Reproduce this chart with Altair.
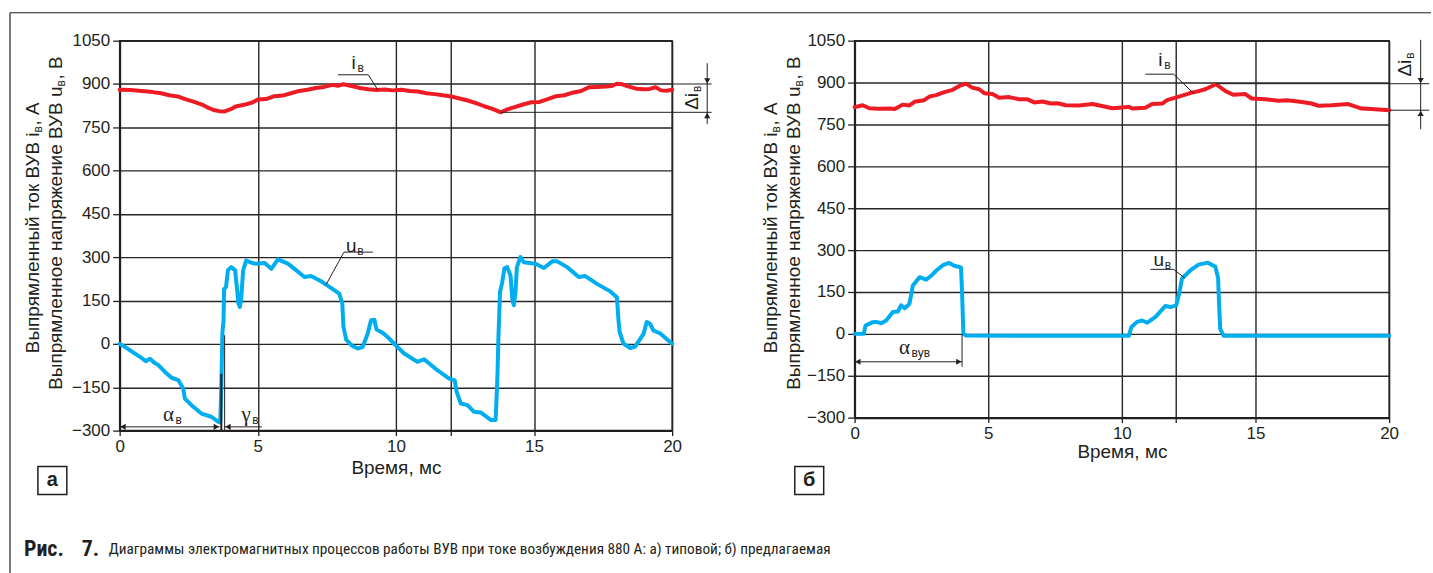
import altair as alt
import pandas as pd

# ---------------- data ----------------
# panel a (typical): excitation current i_v
a_i_t = [0, 0.4, 0.8, 1.2, 1.5, 1.8, 2.1, 2.4, 2.7, 3.0, 3.2, 3.4, 3.6, 3.8, 4.0, 4.2, 4.5, 4.8, 5.0, 5.3,
         5.6, 5.9, 6.2, 6.5, 6.8, 7.1, 7.4, 7.7, 7.9, 8.1, 8.4, 8.7, 9.0, 9.3, 9.6, 9.9, 10.2, 10.5, 10.8, 11.1,
         11.4, 11.7, 12.0, 12.3, 12.6, 12.9, 13.2, 13.5, 13.8, 14.0, 14.3, 14.6, 14.9, 15.2, 15.5, 15.8, 16.1,
         16.4, 16.7, 17.0, 17.3, 17.6, 17.8, 18.0, 18.2, 18.4, 18.7, 19.0, 19.2, 19.4, 19.6, 19.8, 20.0]
a_i_v = [880, 879, 876, 872, 868, 861, 857, 847, 838, 828, 818, 810, 806, 805, 812, 822, 828, 836, 846, 848,
         858, 860, 868, 876, 880, 886, 890, 897, 894, 899, 893, 886, 882, 879, 881, 878, 880, 876, 874, 868,
         865, 861, 857, 850, 843, 834, 823, 814, 802, 811, 820, 829, 837, 838, 848, 858, 861,
         870, 876, 889, 890, 891, 893, 901, 899, 892, 884, 882, 883, 889, 878, 877, 880]
# panel a: rectified voltage u_v
a_u_t = [0, 0.19, 0.5, 0.79, 0.95, 1.1, 1.25, 1.4, 1.64, 1.88, 2.12, 2.3, 2.36, 2.6, 2.96, 3.32, 3.56, 3.64,
         3.68, 3.72, 3.76, 3.78, 3.85, 3.92, 4.04, 4.18, 4.26, 4.3, 4.35, 4.4, 4.47, 4.58, 4.75, 4.9, 5.25,
         5.49, 5.73, 6.09, 6.33, 6.69, 6.93, 7.29, 7.65, 7.95, 8.06, 8.1, 8.2, 8.4, 8.62, 8.8, 8.98, 9.1, 9.22,
         9.3, 9.5, 9.7, 10.0, 10.3, 10.78, 11.02, 11.5, 11.93, 12.13, 12.2, 12.35, 12.59, 12.83, 13.07, 13.43,
         13.61, 13.66, 13.68, 13.71, 13.77, 13.85, 13.93, 14.03, 14.15, 14.22, 14.27, 14.33, 14.38, 14.51,
         14.63, 15.05, 15.36, 15.66, 15.84, 16.2, 16.62, 16.86, 17.28, 17.76, 18.0, 18.06, 18.1, 18.24, 18.48,
         18.66, 18.97, 19.08, 19.2, 19.32, 19.57, 20.0]
a_u_v = [0, -10, -30, -48, -60, -51, -65, -73, -97, -117, -125, -154, -189, -212, -241, -252, -269, -272,
         -150, 40, 80, 190, 197, 255, 266, 255, 180, 140, 128, 157, 255, 289, 282, 278, 280,
         260, 293, 278, 260, 232, 235, 217, 194, 174, 140, 60, 15, -5, -16, -10, 36, 82, 84,
         50, 40, 24, -5, -33, -62, -53, -91, -120, -126, -166, -206, -212, -235, -237, -263,
         -263, -150, -97, 18, 180, 214, 262, 266, 237, 150, 134, 180, 266, 301,
         283, 278, 263, 286, 286, 266, 232, 235, 208, 182, 162, 80, 41, 1, -14,
         -9, 36, 76, 70, 47, 36, 1]

# panel b (proposed): excitation current i_v
b_i_t = [0, 0.3, 0.55, 0.9, 1.3, 1.5, 1.8, 2.05, 2.24, 2.6, 2.8, 3.05, 3.36, 3.67, 3.92, 4.17, 4.4, 4.66, 4.85,
         5.16, 5.41, 5.78, 6.16, 6.47, 6.72, 7.03, 7.34, 7.59, 7.9, 8.4, 8.9, 9.3, 9.64, 10.0, 10.26, 10.39,
         10.88, 11.13, 11.51, 11.69, 12.13, 12.62, 12.9, 13.12, 13.52, 13.87, 14.18, 14.62, 14.86, 15.36,
         15.86, 16.17, 16.6, 17.1, 17.35, 17.85, 18.47, 18.97, 19.34, 20.0]
b_i_v = [812, 819, 808, 806, 807, 805, 821, 818, 831, 837, 850, 855, 866, 874, 888, 896, 882, 876, 862,
         859, 846, 848, 840, 840, 829, 832, 825, 826, 819, 818, 823, 815, 808, 811, 813, 807,
         810, 823, 825, 837, 850, 864, 870, 876, 894, 870, 856, 859, 843, 840,
         835, 837, 832, 825, 817, 819, 823, 807, 805, 801]
# panel b: rectified voltage u_v
b_u_t = [0, 0.34, 0.41, 0.68, 0.81, 1.0, 1.18, 1.43, 1.62, 1.74, 1.87, 2.05, 2.18, 2.43, 2.68, 2.86, 3.05,
         3.3, 3.54, 3.73, 3.98, 4.02, 4.05, 4.07, 4.17, 6.0, 8.0, 10.26, 10.36, 10.57, 10.76, 10.95, 11.26,
         11.63, 11.82, 12.03, 12.13, 12.25, 12.56, 12.87, 13.22, 13.5, 13.6, 13.64, 13.68, 13.81, 20.0]
b_u_v = [0, 0, 30, 42, 43, 38, 48, 78, 80, 102, 92, 107, 173, 203, 194, 208, 226,
         246, 254, 244, 238, 150, 60, 0, -6, -7, -7, -7, 25, 43, 48, 40, 61,
         100, 96, 102, 138, 198, 227, 248, 255, 240, 200, 100, 18, -7, -7]

# axis ticks
x_ticks = [0, 5, 10, 12, 15, 20]
y_ticks = [-300, -150, 0, 150, 300, 450, 600, 750, 900, 1050]

# annotation geometry (data units)
a_segments = [  # t, v, t2, v2, width
    (7.9, 932, 9.0, 932, 1.0), (9.0, 932, 9.35, 879, 1.0),
    (8.12, 318, 9.17, 318, 1.0), (8.12, 318, 7.47, 205, 1.0),
    (0.0, -287, 3.62, -287, 1.0), (3.68, -300, 3.68, -103, 2.0),
    (3.8, 30, 3.8, -300, 1.0), (3.8, -287, 5.15, -287, 1.0),
    (20.0, 900, 21.43, 900, 1.0), (13.8, 802, 21.43, 802, 1.0),
    (21.27, 972, 21.27, 762, 1.0),
]
a_heads = [(0.12, -287, "triangle-left"), (3.5, -287, "triangle-right"), (3.92, -287, "triangle-left"),
           (21.27, 911, "triangle-down"), (21.27, 791, "triangle-up")]
b_segments = [
    (10.88, 930, 11.94, 930, 1.0), (11.94, 930, 12.69, 861, 1.0),
    (11.07, 231, 11.94, 231, 1.0), (11.94, 231, 12.35, 200, 1.0),
    (0.0, -100, 4.02, -100, 1.0), (4.02, 0, 4.02, -118, 1.0),
    (13.52, 896, 21.5, 896, 1.0), (20.0, 801, 21.5, 801, 1.0),
    (21.18, 1053, 21.18, 733, 1.0),
]
b_heads = [(0.12, -100, "triangle-left"), (3.9, -100, "triangle-right"),
           (21.18, 907, "triangle-down"), (21.18, 790, "triangle-up")]

# labels: t, v, main, sub, serif?, sub dx
a_labels = [(8.47, 973, "i", "в", False, 4), (8.38, 339, "u", "в", False, 6),
            (1.77, -245, "α", "в", True, 7), (4.58, -245, "γ", "в", True, 6)]
b_labels = [(11.44, 980, "i", "в", False, 4), (11.38, 264, "u", "в", False, 6),
            (1.87, -50, "α", "вув", True, 7)]
a_delta = (20.71, 869)
b_delta = (20.59, 982)

RED = "#ED1C24"
BLUE = "#00AEEF"
INK = "#231f20"
SANS = "Liberation Sans"
SERIF = "Liberation Serif"
NARROW = "Roboto Condensed, Roboto"


def make_panel(i_t, i_v, u_t, u_v, segs, heads, labels, delta, w, h, xtitle_y,
               ytitle_x1, ytitle_x2, letter, box_x, extras=None):
    xs = alt.Scale(domain=[0, 20], nice=False, zero=False)
    ys = alt.Scale(domain=[-300, 1050], nice=False, zero=False)
    xaxis = alt.Axis(values=x_ticks, labelExpr="datum.value == 12 ? '' : datum.label",
                     format="d", labelFlush=False, labelPadding=3,
                     grid=True, title="Время, мс", titleY=xtitle_y, titleBaseline="middle")
    yaxis = alt.Axis(values=y_ticks, format="d", labelFlush=False, grid=True, title=None,
                     tickSize=7, labelPadding=3)

    def XY():
        return dict(x=alt.X("t:Q", scale=xs, axis=xaxis), y=alt.Y("v:Q", scale=ys, axis=yaxis))

    df_i = pd.DataFrame({"t": i_t, "v": i_v})
    df_u = pd.DataFrame({"t": u_t, "v": u_v})

    line_u = alt.Chart(df_u).mark_line(color=BLUE, strokeWidth=4, strokeCap="round",
                                       strokeJoin="round").encode(**XY())
    line_i = alt.Chart(df_i).mark_line(color=RED, strokeWidth=4, strokeCap="round",
                                       strokeJoin="round").encode(**XY())

    df_s = pd.DataFrame(segs, columns=["t", "v", "t2", "v2", "sw"])
    rules = alt.Chart(df_s).mark_rule(color=INK).encode(
        **XY(), x2="t2:Q", y2="v2:Q",
        strokeWidth=alt.StrokeWidth("sw:Q", scale=None, legend=None))

    df_h = pd.DataFrame(heads, columns=["t", "v", "shape"])
    arrows = alt.Chart(df_h).mark_point(filled=True, size=38, color=INK, opacity=1).encode(
        **XY(), shape=alt.Shape("shape:N", scale=None, legend=None))

    layers = [line_u, line_i, rules, arrows]

    for (t, v, main, sub, serif, sdx) in labels:
        d = pd.DataFrame({"t": [t], "v": [v]})
        layers.append(alt.Chart(d).mark_text(text=main, font=SERIF if serif else SANS,
                                             fontSize=21 if serif else 19, color=INK,
                                             align="center", baseline="middle").encode(**XY()))
        layers.append(alt.Chart(d).mark_text(text=sub, font=SANS, fontSize=12, color=INK,
                                             align="left", baseline="middle",
                                             dx=sdx, dy=5).encode(**XY()))

    dd = pd.DataFrame({"t": [delta[0]], "v": [delta[1]]})
    layers.append(alt.Chart(dd).mark_text(text="Δi", font=SANS, fontSize=19, color=INK, angle=270,
                                          align="right", baseline="middle").encode(**XY()))
    layers.append(alt.Chart(dd).mark_text(text="в", font=SANS, fontSize=12, color=INK, angle=270,
                                          align="left", baseline="middle", dx=1, dy=5).encode(**XY()))

    # y-axis titles (two rotated lines with subscripts), pixel positions in the panel
    def ytitle(xpx, ypx, main, tail):
        base = alt.Chart(pd.DataFrame({"k": [0]}))
        pos = dict(x=alt.value(xpx), y=alt.value(ypx))
        return [
            base.mark_text(text=main, font=SANS, fontSize=19, color=INK, angle=270,
                           align="right", baseline="middle").encode(**pos),
            base.mark_text(text="в", font=SANS, fontSize=12, color=INK, angle=270,
                           align="left", baseline="middle", dy=5).encode(**pos),
            base.mark_text(text=tail, font=SANS, fontSize=19, color=INK, angle=270,
                           align="left", baseline="middle", dx=7).encode(**pos),
        ]
    layers += ytitle(ytitle_x1, 92, "Выпрямленный ток ВУВ i", ", А")
    layers += ytitle(ytitle_x2, 46, "Выпрямленное напряжение ВУВ u", ", В")

    # panel letter box
    base = alt.Chart(pd.DataFrame({"k": [0]}))
    layers.append(base.mark_rect(fill="white", stroke=INK, strokeWidth=1.5).encode(
        x=alt.value(box_x), x2=alt.value(box_x + 29), y=alt.value(427), y2=alt.value(455)))
    layers.append(base.mark_text(text=letter, font=SANS, fontSize=20, fontWeight="bold",
                                 color=INK, align="center", baseline="middle").encode(
        x=alt.value(box_x + 14.5), y=alt.value(441)))

    if extras:
        layers += extras

    return alt.layer(*layers).properties(width=w, height=h)


# figure frame and caption (pixel positions relative to left panel origin)
fb = alt.Chart(pd.DataFrame({"k": [0]}))
frame_and_caption = [
    fb.mark_rule(color=INK, strokeWidth=1.2).encode(
        x=alt.value(-110), x2=alt.value(1315), y=alt.value(-28)),
    fb.mark_rule(color=INK, strokeWidth=1.2).encode(
        x=alt.value(-110), y=alt.value(-28), y2=alt.value(534)),
    fb.mark_text(text="Рис.", font=NARROW, fontSize=22, fontWeight="bold", color=INK,
                 align="left", baseline="middle").encode(x=alt.value(-96), y=alt.value(510)),
    fb.mark_text(text="7.", font=NARROW, fontSize=22, fontWeight="bold", color=INK,
                 align="left", baseline="middle").encode(x=alt.value(-38), y=alt.value(510)),
    fb.mark_text(text="Диаграммы электромагнитных процессов работы ВУВ при токе возбуждения 880 А: а) типовой; б) предлагаемая",
                 font=NARROW, fontSize=15.3, color=INK,
                 align="left", baseline="middle").encode(x=alt.value(-11), y=alt.value(510)),
]

left = make_panel(a_i_t, a_i_v, a_u_t, a_u_v, a_segments, a_heads, a_labels, a_delta,
                  554, 391, 37, -87, -64, "а", -82, extras=frame_and_caption)
right = make_panel(b_i_t, b_i_v, b_u_t, b_u_v, b_segments, b_heads, b_labels, b_delta,
                   536, 378, 34, -84, -61, "б", -60)

chart = alt.hconcat(left, right, spacing=183, bounds="flush").properties(
    autosize=alt.AutoSizeParams(type="pad"),
    padding={"left": 8, "top": 10, "right": 0, "bottom": 0},
    background="white",
).configure_view(
    stroke=INK, strokeWidth=1.5
).configure_axis(
    labelFont=SANS, labelFontSize=17, labelColor=INK,
    titleFont=SANS, titleFontSize=19, titleFontWeight="normal", titleColor=INK,
    gridColor="#262626", gridWidth=1.4, gridOpacity=1,
    domainColor=INK, domainWidth=2, tickColor=INK, tickWidth=1.3, tickSize=5,
)

chart.save("out.html", embed_options={"renderer": "svg", "actions": False})
